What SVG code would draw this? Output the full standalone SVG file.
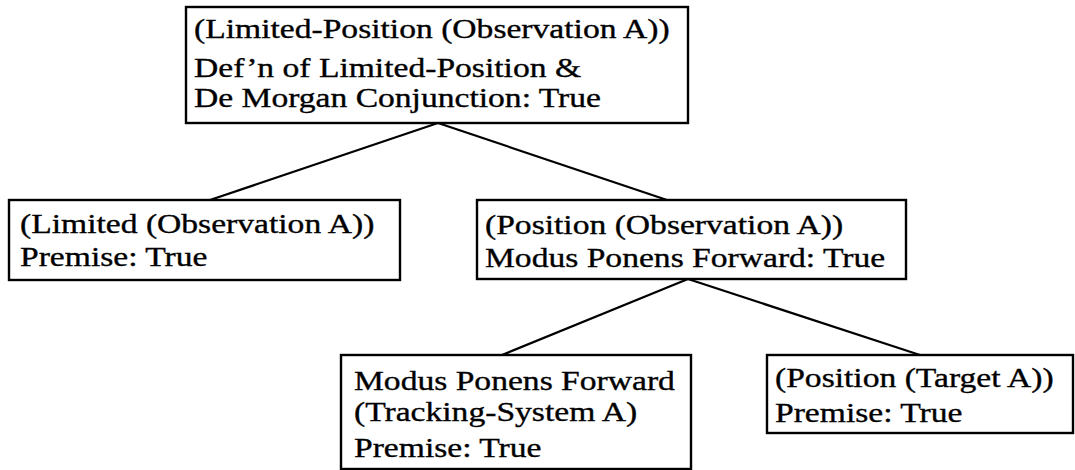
<svg xmlns="http://www.w3.org/2000/svg" width="1075" height="470" viewBox="0 0 1075 470">
<style>
.box{fill:#fff;stroke:#000;stroke-width:2.4}
.t{font-family:"Liberation Serif","Times New Roman",serif;font-size:28px;fill:#000;stroke:#000;stroke-width:0.35}
.c{stroke:#000;stroke-width:2.2;fill:none}
</style>
<rect width="1075" height="470" fill="#fff"/>
<g id="connectors">
<line class="c" x1="438" y1="123" x2="210" y2="200"/>
<line class="c" x1="438" y1="123" x2="667" y2="200"/>
<line class="c" x1="688" y1="279" x2="502" y2="355"/>
<line class="c" x1="688" y1="279" x2="920" y2="355"/>
</g>
<g id="n-limited-position">
<rect class="box" x="186" y="7" width="502" height="116"/>
<text class="t" transform="translate(194 38) scale(1.2 1)">(Limited-Position (Observation A))</text>
<text class="t" transform="translate(194 77) scale(1.2 1)">Def’n of Limited-Position &amp;</text>
<text class="t" transform="translate(194 107) scale(1.2 1)">De Morgan Conjunction: True</text>
</g>
<g id="n-limited">
<rect class="box" x="9" y="200" width="391" height="80"/>
<text class="t" transform="translate(20 233) scale(1.2 1)">(Limited (Observation A))</text>
<text class="t" transform="translate(20 266) scale(1.2 1)">Premise: True</text>
</g>
<g id="n-position">
<rect class="box" x="477" y="200" width="429" height="79"/>
<text class="t" transform="translate(485 234) scale(1.2 1)">(Position (Observation A))</text>
<text class="t" transform="translate(485 267) scale(1.2 1)">Modus Ponens Forward: True</text>
</g>
<g id="n-tracking">
<rect class="box" x="341" y="355" width="350" height="114"/>
<text class="t" transform="translate(354 390) scale(1.2 1)">Modus Ponens Forward</text>
<text class="t" transform="translate(354 421) scale(1.2 1)">(Tracking-System A)</text>
<text class="t" transform="translate(354 457) scale(1.2 1)">Premise: True</text>
</g>
<g id="n-target">
<rect class="box" x="767" y="355" width="306" height="78"/>
<text class="t" transform="translate(775 387) scale(1.2 1)">(Position (Target A))</text>
<text class="t" transform="translate(775 422) scale(1.2 1)">Premise: True</text>
</g>
</svg>
